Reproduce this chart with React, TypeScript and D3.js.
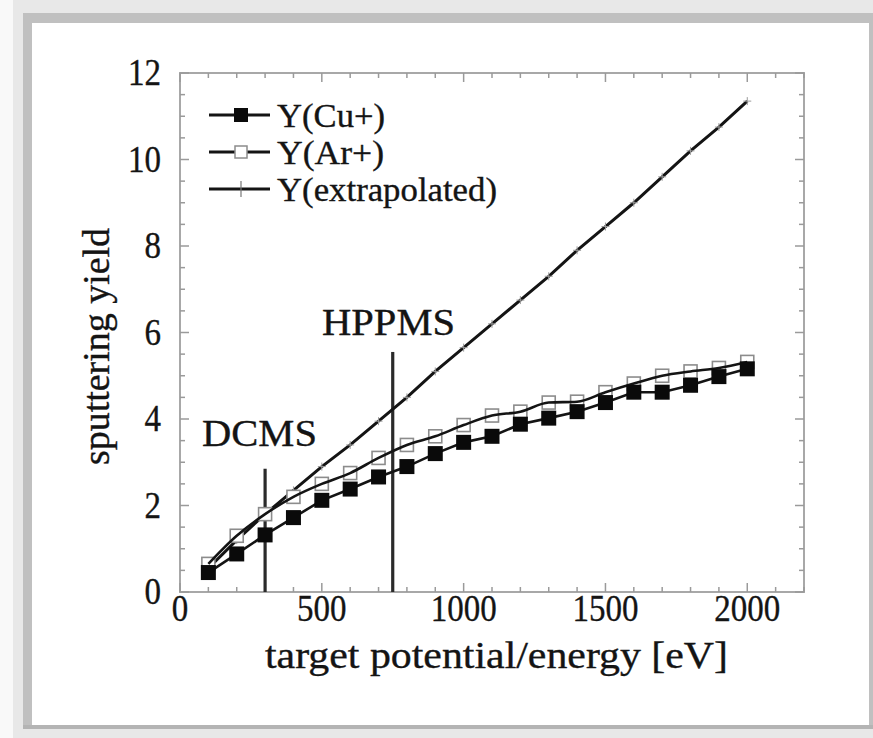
import React from "react";
import * as d3 from "d3";

// Energies (eV) at which yields were evaluated
const energies = [100, 200, 300, 400, 500, 600, 700, 800, 900, 1000, 1100, 1200, 1300, 1400, 1500, 1600, 1700, 1800, 1900, 2000];
// Sputtering yield for Cu+ bombardment
const yieldCu = [0.45, 0.88, 1.32, 1.72, 2.12, 2.38, 2.66, 2.9, 3.2, 3.46, 3.6, 3.88, 4.02, 4.17, 4.38, 4.62, 4.62, 4.78, 4.98, 5.16];
// Sputtering yield for Ar+ bombardment
const yieldAr = [0.65, 1.3, 1.8, 2.2, 2.5, 2.75, 3.1, 3.4, 3.6, 3.86, 4.08, 4.17, 4.38, 4.4, 4.62, 4.82, 5.0, 5.1, 5.18, 5.32];
// Linearly extrapolated yield
const yieldExtrap = [0.55, 1.2, 1.8, 2.35, 2.9, 3.4, 3.95, 4.5, 5.1, 5.65, 6.2, 6.75, 7.3, 7.9, 8.45, 9.0, 9.6, 10.2, 10.75, 11.35];

const xTicks = [0, 500, 1000, 1500, 2000];
const yTicks = [0, 2, 4, 6, 8, 10, 12];

// Operating-regime markers: [label, energy, top of marker line]
const regimes: [string, number, number][] = [
  ["DCMS", 300, 2.85],
  ["HPPMS", 750, 5.55],
];

const legendLabels = ["Y(Cu+)", "Y(Ar+)", "Y(extrapolated)"];

const W = 873;
const H = 738;
const FONT = "'Liberation Serif', 'Times New Roman', serif";

export default function App() {
  const x = d3.scaleLinear().domain([0, 2200]).range([180, 804]);
  const y = d3.scaleLinear().domain([0, 12]).range([592, 73]);

  const line = d3
    .line<number>()
    .x((_, i) => x(energies[i]))
    .y((d) => y(d));
  const smooth = d3
    .line<number>()
    .x((_, i) => x(energies[i]))
    .y((d) => y(d))
    .curve(d3.curveMonotoneX);

  const minorX = d3.range(0, 2201, 100);
  const minorY = d3.range(0, 12.01, 0.5);

  const [x0, x1] = x.range();
  const [y0, y1] = y.range();
  const tickCol = "#9a9a9a";

  const sq = 15;
  const osq = 13;
  const ink = "#141414";

  return (
    <svg width={W} height={H} style={{ display: "block", position: "absolute", left: 0, top: 0 }}>
      {/* page frame */}
      <rect x={0} y={0} width={W} height={H} fill="#f9f9f9" />
      <rect x={13} y={0} width={W - 13} height={H} fill="#e8e8e8" />
      <rect x={23} y={13} width={W - 23} height={716} fill="#c0c0c0" />
      <rect x={32} y={23} width={837} height={702} fill="#ffffff" />
      <rect x={23} y={725} width={W - 23} height={4} fill="#b4b4b4" />

      {/* axis box */}
      <rect x={x0} y={y1} width={x1 - x0} height={y0 - y1} fill="none" stroke="#a8a8a8" strokeWidth={2} />

      {/* x ticks, bottom and top */}
      {minorX.map((v) => {
        const major = v % 500 === 0;
        const len = major ? 9 : 5;
        return (
          <g key={"xt" + v} stroke={tickCol} strokeWidth={1.5}>
            <line x1={x(v)} x2={x(v)} y1={y0} y2={y0 - len} />
            <line x1={x(v)} x2={x(v)} y1={y1} y2={y1 + len} />
          </g>
        );
      })}
      {/* y ticks, left and right */}
      {minorY.map((v) => {
        const major = Math.abs(v % 2) < 1e-6;
        const len = major ? 9 : 5;
        return (
          <g key={"yt" + v} stroke={tickCol} strokeWidth={1.5}>
            <line x1={x0} x2={x0 + len} y1={y(v)} y2={y(v)} />
            <line x1={x1} x2={x1 - len} y1={y(v)} y2={y(v)} />
          </g>
        );
      })}

      <g fill={ink} stroke={ink} strokeWidth={0.35}>
        {/* tick labels */}
        {xTicks.map((v) => (
          <text
            key={"xl" + v}
            x={x(v)}
            y={621}
            fontFamily={FONT}
            fontSize={37}
            textAnchor="middle"
            textLength={String(v).length * 16.5}
            lengthAdjust="spacingAndGlyphs"
          >
            {v}
          </text>
        ))}
        {yTicks.map((v) => (
          <text
            key={"yl" + v}
            x={161}
            y={y(v) + 12}
            fontFamily={FONT}
            fontSize={37}
            textAnchor="end"
            textLength={String(v).length * 16.5}
            lengthAdjust="spacingAndGlyphs"
          >
            {v}
          </text>
        ))}

        {/* axis titles */}
        <text
          x={265}
          y={668}
          fontFamily={FONT}
          fontSize={37}
          textLength={463}
          lengthAdjust="spacingAndGlyphs"
        >
          target potential/energy [eV]
        </text>
        <text
          transform="translate(109,465) rotate(-90)"
          fontFamily={FONT}
          fontSize={37}
          textLength={237}
          lengthAdjust="spacingAndGlyphs"
        >
          sputtering yield
        </text>

        <text x={202} y={446} fontFamily={FONT} fontSize={38} textLength={115} lengthAdjust="spacingAndGlyphs">
          {regimes[0][0]}
        </text>
        <text x={322} y={335} fontFamily={FONT} fontSize={38} textLength={133} lengthAdjust="spacingAndGlyphs">
          {regimes[1][0]}
        </text>
      </g>

      {/* regime marker lines */}
      {regimes.map(([, e, top]) => (
        <line key={"rl" + e} x1={x(e)} x2={x(e)} y1={y(0)} y2={y(top)} stroke="#2a2a2a" strokeWidth={3.2} />
      ))}

      {/* extrapolated yield */}
      <path d={line(yieldExtrap) || ""} fill="none" stroke={ink} strokeWidth={3} />
      {yieldExtrap.map((v, i) => (
        <g key={"ep" + i} stroke="#9a9a9a" strokeWidth={1}>
          <line x1={x(energies[i]) - 4} x2={x(energies[i]) + 4} y1={y(v)} y2={y(v)} />
          <line x1={x(energies[i])} x2={x(energies[i])} y1={y(v) - 4} y2={y(v) + 4} />
        </g>
      ))}

      {/* Ar+ yield */}
      {yieldAr.map((v, i) => (
        <rect
          key={"ap" + i}
          x={x(energies[i]) - osq / 2}
          y={y(v) - osq / 2}
          width={osq}
          height={osq}
          fill="#fff"
          stroke="#8c8c8c"
          strokeWidth={1.6}
        />
      ))}
      <path d={smooth(yieldAr) || ""} fill="none" stroke={ink} strokeWidth={2.6} />

      {/* Cu+ yield */}
      <path d={line(yieldCu) || ""} fill="none" stroke={ink} strokeWidth={2.6} />
      {yieldCu.map((v, i) => (
        <rect
          key={"cp" + i}
          x={x(energies[i]) - sq / 2}
          y={y(v) - sq / 2}
          width={sq}
          height={sq}
          fill="#0a0a0a"
        />
      ))}

      {/* legend */}
      {legendLabels.map((lab, i) => {
        const ly = [115, 152, 189][i];
        const lw = [108, 107, 220][i];
        return (
          <g key={"lg" + i}>
            <line x1={209} x2={270} y1={ly} y2={ly} stroke={ink} strokeWidth={3} />
            {i === 0 && <rect x={241 - 7} y={ly - 7} width={14} height={14} fill="#0a0a0a" />}
            {i === 1 && (
              <rect x={241 - 6} y={ly - 6} width={12} height={12} fill="#fff" stroke="#8c8c8c" strokeWidth={1.5} />
            )}
            {i === 2 && <line x1={241} x2={241} y1={ly - 8} y2={ly + 8} stroke="#777" strokeWidth={1.2} />}
            <text
              x={277}
              y={ly + 12}
              fontFamily={FONT}
              fontSize={33}
              textLength={lw}
              lengthAdjust="spacingAndGlyphs"
              fill={ink}
              stroke={ink}
              strokeWidth={0.35}
            >
              {lab}
            </text>
          </g>
        );
      })}
    </svg>
  );
}
